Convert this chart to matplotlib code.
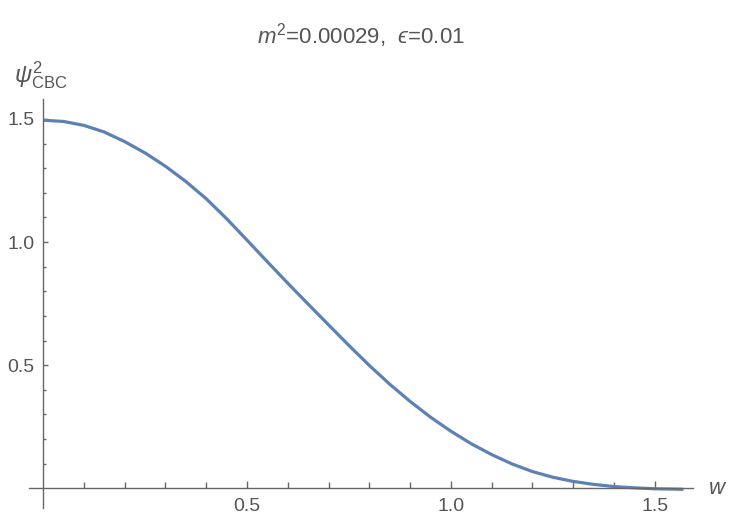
import numpy as np
import matplotlib
matplotlib.use('Agg')
import matplotlib.pyplot as plt
from matplotlib.ticker import FixedLocator

plt.rcParams['font.family'] = ['Liberation Sans', 'DejaVu Sans']
plt.rcParams['mathtext.fontset'] = 'custom'
plt.rcParams['mathtext.rm'] = 'Liberation Sans'
plt.rcParams['mathtext.it'] = 'Liberation Sans:italic'
plt.rcParams['mathtext.fallback'] = 'stixsans'

# psi^2_CBC
w = [0.00, 0.05, 0.10, 0.15, 0.20, 0.25, 0.30, 0.35, 0.40, 0.45, 0.50,
     0.55, 0.60, 0.65, 0.70, 0.75, 0.80, 0.85, 0.90, 0.95, 1.00, 1.05,
     1.10, 1.15, 1.20, 1.25, 1.30, 1.35, 1.40, 1.45, 1.50, 1.5708]
psi2 = [1.495, 1.490, 1.474, 1.447, 1.408, 1.362, 1.308, 1.246, 1.176, 1.095, 1.008,
        0.920, 0.833, 0.748, 0.664, 0.580, 0.499, 0.423, 0.353, 0.289, 0.232, 0.181,
        0.137, 0.099, 0.068, 0.045, 0.028, 0.016, 0.007, 0.002, -0.002, -0.004]

x_major = [0.5, 1.0, 1.5]
x_minor = [0.1, 0.2, 0.3, 0.4, 0.6, 0.7, 0.8, 0.9, 1.1, 1.2, 1.3, 1.4]
y_major = [0.5, 1.0, 1.5]
y_minor = [0.1, 0.2, 0.3, 0.4, 0.6, 0.7, 0.8, 0.9, 1.1, 1.2, 1.3, 1.4]

axcol = '#666666'
txtcol = '#555555'

fig = plt.figure(figsize=(7.4, 5.28), dpi=100)
ax = fig.add_axes([29/740, 1-508/528, 664/740, 408.7/528])
ax.plot(w, psi2, color='#5E81B5', lw=2.3, solid_capstyle='butt', solid_joinstyle='round')

ax.set_xlim(-0.0348, 1.594)
ax.set_ylim(-0.08, 1.58)

for s in ['top', 'right']:
    ax.spines[s].set_visible(False)
ax.spines['left'].set_position(('data', 0))
ax.spines['bottom'].set_position(('data', 0))
for s in ['left', 'bottom']:
    ax.spines[s].set_color(axcol)
    ax.spines[s].set_linewidth(1.0)

ax.xaxis.set_major_locator(FixedLocator(x_major))
ax.xaxis.set_minor_locator(FixedLocator(x_minor))
ax.yaxis.set_major_locator(FixedLocator(y_major))
ax.yaxis.set_minor_locator(FixedLocator(y_minor))
ax.set_xticklabels(['0.5', '1.0', '1.5'])
ax.set_yticklabels(['0.5', '1.0', '1.5'])

ax.tick_params(axis='x', which='major', direction='in', length=5.3, width=1.0,
               color=axcol, labelcolor=txtcol, labelsize=14, pad=7)
ax.tick_params(axis='x', which='minor', direction='in', length=4.0, width=1.0, color=axcol)
ax.tick_params(axis='y', which='major', direction='in', length=3.6, width=1.0,
               color=axcol, labelcolor=txtcol, labelsize=14, pad=6)
ax.tick_params(axis='y', which='minor', direction='in', length=2.4, width=1.0, color=axcol)

fig.text(361/740, 1-43/528, '$m^2$=0.00029,  $\u03f5$=0.01', ha='center',
         va='baseline', fontsize=16, color=txtcol)
fig.text(14/740, 1-82/528, r'$\psi^2_{\mathrm{CBC}}$', ha='left', va='baseline',
         fontsize=17, color=txtcol)
fig.text(717/740, 1-488/528, 'w', ha='center', va='center', fontsize=16,
         style='italic', color=txtcol)

fig.savefig('out.png', dpi=100)
